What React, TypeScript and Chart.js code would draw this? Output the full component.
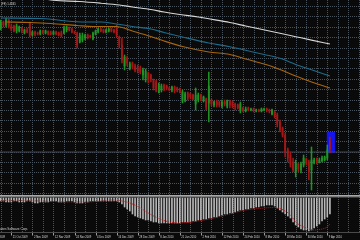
import React, { useEffect, useRef } from "react";
import { Chart, registerables } from "chart.js";

Chart.register(...registerables);

const BG = "#0a0a0b";
const GRID = "#4a525c";
const BULL = "#1f9424";
const BEAR = "#a51717";

// ---- price candles (daily) ----
const opens = [
  1.472, 1.478, 1.475, 1.480, 1.474, 1.474, 1.469, 1.469, 1.472, 1.467,
  1.470, 1.477, 1.465, 1.468, 1.467, 1.466, 1.469, 1.467, 1.469, 1.467,
  1.466, 1.468, 1.467, 1.467, 1.467, 1.470, 1.472, 1.471, 1.468, 1.467,
  1.458, 1.460, 1.462, 1.465, 1.464, 1.461, 1.466, 1.468, 1.471, 1.470,
  1.468, 1.469, 1.471, 1.470, 1.473, 1.463, 1.455, 1.434, 1.442, 1.432,
  1.437, 1.434, 1.433, 1.432, 1.425, 1.422, 1.427, 1.425, 1.420, 1.418,
  1.408, 1.410, 1.415, 1.414, 1.412, 1.410, 1.413, 1.412, 1.411, 1.399,
  1.400, 1.407, 1.406, 1.405, 1.396, 1.400, 1.405, 1.400, 1.401, 1.397,
  1.400, 1.395, 1.399, 1.398, 1.394, 1.398, 1.394, 1.399, 1.398, 1.396,
  1.395, 1.389, 1.392, 1.389, 1.392, 1.390, 1.391, 1.389, 1.390, 1.389,
  1.390, 1.391, 1.390, 1.386, 1.388, 1.385, 1.378, 1.372, 1.365, 1.350,
  1.345, 1.338, 1.328, 1.336, 1.330, 1.335, 1.341, 1.338, 1.330, 1.337,
  1.341, 1.338, 1.339, 1.340, 1.342, 1.359,
];
const highs = [
  1.480, 1.479, 1.482, 1.481, 1.476, 1.475, 1.476, 1.474, 1.473, 1.471,
  1.472, 1.478, 1.469, 1.469, 1.468, 1.470, 1.470, 1.470, 1.469, 1.469,
  1.469, 1.469, 1.468, 1.469, 1.474, 1.474, 1.473, 1.472, 1.469, 1.468,
  1.467, 1.467, 1.466, 1.466, 1.465, 1.468, 1.470, 1.472, 1.472, 1.471,
  1.471, 1.472, 1.472, 1.471, 1.475, 1.464, 1.462, 1.445, 1.444, 1.438,
  1.438, 1.436, 1.435, 1.434, 1.432, 1.431, 1.428, 1.426, 1.421, 1.420,
  1.417, 1.416, 1.416, 1.415, 1.413, 1.414, 1.414, 1.413, 1.412, 1.410,
  1.408, 1.408, 1.407, 1.406, 1.412, 1.407, 1.406, 1.404, 1.402, 1.428,
  1.401, 1.399, 1.400, 1.399, 1.400, 1.400, 1.400, 1.400, 1.399, 1.397,
  1.396, 1.398, 1.393, 1.393, 1.393, 1.392, 1.392, 1.391, 1.391, 1.392,
  1.392, 1.392, 1.391, 1.391, 1.389, 1.387, 1.380, 1.373, 1.367, 1.352,
  1.348, 1.342, 1.340, 1.337, 1.338, 1.345, 1.342, 1.340, 1.353, 1.342,
  1.342, 1.342, 1.344, 1.344, 1.355, 1.363,
];
const lows = [
  1.470, 1.473, 1.473, 1.472, 1.469, 1.468, 1.467, 1.468, 1.467, 1.466,
  1.467, 1.463, 1.464, 1.464, 1.465, 1.465, 1.466, 1.466, 1.465, 1.465,
  1.465, 1.465, 1.464, 1.463, 1.466, 1.468, 1.469, 1.467, 1.466, 1.452,
  1.457, 1.458, 1.460, 1.461, 1.462, 1.460, 1.465, 1.467, 1.468, 1.467,
  1.467, 1.468, 1.468, 1.467, 1.463, 1.452, 1.437, 1.430, 1.434, 1.430,
  1.431, 1.428, 1.427, 1.426, 1.420, 1.418, 1.417, 1.418, 1.410, 1.408,
  1.407, 1.408, 1.409, 1.410, 1.409, 1.408, 1.407, 1.408, 1.407, 1.397,
  1.398, 1.400, 1.401, 1.400, 1.390, 1.398, 1.399, 1.398, 1.390, 1.378,
  1.394, 1.393, 1.393, 1.393, 1.392, 1.394, 1.392, 1.392, 1.392, 1.390,
  1.391, 1.387, 1.388, 1.388, 1.389, 1.389, 1.388, 1.388, 1.388, 1.388,
  1.389, 1.388, 1.387, 1.385, 1.382, 1.373, 1.368, 1.363, 1.343, 1.338,
  1.333, 1.328, 1.323, 1.328, 1.327, 1.333, 1.335, 1.320, 1.310, 1.336,
  1.336, 1.337, 1.338, 1.339, 1.340, 1.347,
];
const closes = [
  1.478, 1.475, 1.480, 1.474, 1.471, 1.469, 1.474, 1.473, 1.469, 1.470,
  1.468, 1.465, 1.468, 1.466, 1.466, 1.469, 1.467, 1.469, 1.466, 1.466,
  1.468, 1.466, 1.465, 1.464, 1.472, 1.473, 1.470, 1.468, 1.467, 1.455,
  1.465, 1.464, 1.465, 1.463, 1.463, 1.467, 1.469, 1.471, 1.469, 1.468,
  1.470, 1.471, 1.469, 1.468, 1.465, 1.455, 1.440, 1.443, 1.437, 1.436,
  1.433, 1.430, 1.429, 1.428, 1.430, 1.429, 1.420, 1.421, 1.412, 1.410,
  1.415, 1.414, 1.411, 1.412, 1.410, 1.413, 1.409, 1.410, 1.408, 1.408,
  1.406, 1.402, 1.403, 1.401, 1.405, 1.405, 1.401, 1.403, 1.393, 1.414,
  1.396, 1.398, 1.395, 1.395, 1.398, 1.396, 1.399, 1.395, 1.394, 1.393,
  1.392, 1.396, 1.390, 1.391, 1.390, 1.391, 1.390, 1.390, 1.389, 1.391,
  1.391, 1.390, 1.389, 1.390, 1.384, 1.376, 1.370, 1.365, 1.348, 1.342,
  1.336, 1.330, 1.337, 1.331, 1.336, 1.342, 1.337, 1.328, 1.340, 1.340,
  1.338, 1.340, 1.342, 1.343, 1.350, 1.351,
];

// ---- moving averages (bar index, price) ----
const maWhiteIdx = [14, 20, 30, 38, 45, 50, 57, 62, 68, 75, 79, 87, 93, 98, 106, 112, 118, 125];
const maWhite = [1.5025, 1.4997, 1.4985, 1.4968, 1.495, 1.493, 1.4905, 1.488, 1.4855, 1.483, 1.4812, 1.4775, 1.474, 1.4712, 1.4667, 1.4633, 1.4599, 1.456];
const maBlueIdx = [0, 15, 20, 25, 32, 38, 44, 50, 57, 62, 69, 79, 87, 93, 100, 106, 112, 118, 125];
const maBlue = [1.482, 1.4815, 1.4805, 1.479, 1.478, 1.478, 1.476, 1.4735, 1.471, 1.4675, 1.463, 1.457, 1.4533, 1.4497, 1.4455, 1.4417, 1.4355, 1.4302, 1.424];
const maOrangeIdx = [2, 11, 19, 29, 35, 44, 50, 57, 62, 69, 79, 87, 93, 100, 103, 106, 112, 118, 125];
const maOrange = [1.478, 1.4775, 1.4765, 1.4745, 1.4735, 1.4735, 1.469, 1.4635, 1.459, 1.4535, 1.448, 1.4455, 1.441, 1.436, 1.4335, 1.4305, 1.424, 1.418, 1.412];

// ---- horizontal line & rectangle objects ----
const hLinePrice = 1.348;
const rectFrom = 123.8;
const rectTo = 126.9;
const rectHigh = 1.368;
const rectLow = 1.347;

// ---- MACD (in pips) ----
const macd = [
  -9, -9, -12, -12, -12, -9, -9, -12, -12, -12, -9, -9, -12, -15, -15, -12, -12, -12, -12, -9,
  -9, -9, -12, -12, -12, -9, -9, -9, -12, -15, -15, -15, -12, -12, -9, -9, -9, -9, -9, -9,
  -9, -9, -9, -9, -9, -12,
  -18, -27, -33, -39, -48, -54, -57, -60, -63, -66, -66, -69, -72, -72, -75, -75, -75, -75, -75, -75,
  -75, -75, -75, -72, -72, -72, -72, -69, -69, -66, -66, -63, -63, -60, -60, -57, -57, -54, -51, -48,
  -48, -45, -45, -42, -39, -36, -36, -33, -33, -30, -30, -27, -27, -24, -24, -21, -21, -21, -24, -30,
  -36, -42, -48, -54, -60, -72, -81, -87, -93, -96, -96, -99, -96, -90, -84, -78, -69, -63, -57, -48,
];
const signalIdx = [0, 8, 15, 20, 26, 32, 38, 42, 45, 49, 53, 56, 60, 64, 68, 75, 81, 87, 93, 98, 104, 108, 110, 112, 116, 119, 122, 124, 125];
const signal = [-7.5, -7.5, -9, -10.5, -12, -12, -9, -6, -7.5, -15, -30, -45, -61.5, -72, -75, -69, -60, -48, -36, -31.5, -28.5, -39, -51, -72, -90, -96, -93, -87, -78];

// ---- time axis labels ----
const labelIdx = [-4, 4, 12, 20, 28, 36, 44, 52, 60, 68, 76, 84, 92, 100, 108, 116, 124];
const labelText = [
  "9 Oct 2009", "21 Oct 2009", "2 Nov 2009", "12 Nov 2009", "24 Nov 2009", "4 Dec 2009",
  "16 Dec 2009", "28 Dec 2009", "8 Jan 2010", "21 Jan 2010", "2 Feb 2010", "12 Feb 2010",
  "24 Feb 2010", "8 Mar 2010", "18 Mar 2010", "30 Mar 2010", "9 Apr 2010",
];
const titleText = "(FE) 1.4845";
const copyrightText = "© 2001-2010 MetaQuotes Software Corp.";

// ---- scale settings ----
const X_MIN = -0.3;
const X_MAX = 136.42;
const GRID_EVERY = 4;
const Y_MAX = 1.5;
const Y_MIN = 1.305;
const GRID_TOP = 1.494;
const GRID_STEP = 0.0104;
const IND_MAX = 9;
const IND_MIN = -102;

const MAIN_H = 195;
const IND_H = 45;

function xGridValues() {
  const t: number[] = [];
  for (let v = 0; v <= X_MAX; v += GRID_EVERY) t.push(v);
  return t;
}
function yGridValues() {
  const t: number[] = [];
  for (let v = GRID_TOP; v > Y_MIN; v -= GRID_STEP) t.push(v);
  return t;
}

// dotted grid drawn from the scales' own pixel mapping
function drawDottedGrid(chart: any, withY: boolean) {
  const { ctx, chartArea, scales } = chart;
  ctx.save();
  ctx.strokeStyle = GRID;
  ctx.lineWidth = 1;
  ctx.setLineDash([1, 1]);
  xGridValues().forEach((v) => {
    const px = Math.round(scales.x.getPixelForValue(v)) + 0.5;
    ctx.beginPath();
    ctx.moveTo(px, chartArea.top);
    ctx.lineTo(px, chartArea.bottom);
    ctx.stroke();
  });
  if (withY) {
    yGridValues().forEach((v) => {
      const py = Math.round(scales.y.getPixelForValue(v)) + 0.5;
      ctx.beginPath();
      ctx.moveTo(chartArea.left, py);
      ctx.lineTo(chartArea.right, py);
      ctx.stroke();
    });
  }
  ctx.restore();
}

export default function App() {
  const mainRef = useRef<HTMLCanvasElement>(null);
  const indRef = useRef<HTMLCanvasElement>(null);

  useEffect(() => {
    document.body.style.margin = "0";
    document.body.style.background = BG;
    const idx = opens.map((_, i) => i);
    const isBull = (i: number) => closes[i] >= opens[i];
    const candleColor = (c: any) => (isBull(c.dataIndex) ? BULL : BEAR);

    const xScale = () => ({
      type: "linear" as const,
      min: X_MIN,
      max: X_MAX,
      offset: false,
      display: false,
    });

    const mainDecor = {
      id: "mainDecor",
      beforeDraw(chart: any) {
        const { ctx, width, height } = chart;
        ctx.save();
        ctx.fillStyle = BG;
        ctx.fillRect(0, 0, width, height);
        ctx.restore();
        drawDottedGrid(chart, true);
      },
      beforeDatasetsDraw(chart: any) {
        const { ctx, scales } = chart;
        const x0 = scales.x.getPixelForValue(rectFrom);
        const x1 = scales.x.getPixelForValue(rectTo);
        const y0 = scales.y.getPixelForValue(rectHigh);
        const y1 = scales.y.getPixelForValue(rectLow);
        ctx.save();
        ctx.fillStyle = "#1414f2";
        ctx.fillRect(x0, y0, x1 - x0, y1 - y0);
        ctx.restore();
      },
      afterDraw(chart: any) {
        const { ctx } = chart;
        ctx.save();
        ctx.font = '2.8px "Liberation Sans"';
        ctx.fillStyle = "#d0d0d0";
        ctx.textBaseline = "alphabetic";
        ctx.fillText(titleText, 1, 5);
        ctx.restore();
      },
    };

    const main = new Chart(mainRef.current!, {
      type: "bar",
      data: {
        datasets: [
          {
            type: "line",
            data: [{ x: X_MIN - 1, y: hLinePrice }, { x: X_MAX + 1, y: hLinePrice }],
            borderColor: "#3f454c",
            borderWidth: 1,
            pointRadius: 0,
            order: 10,
          },
          {
            type: "bar",
            data: idx.map((i) => ({ x: i, y: [lows[i], highs[i]] })),
            backgroundColor: candleColor,
            barThickness: 0.9,
            grouped: false,
            order: 3,
          },
          {
            type: "bar",
            data: idx.map((i) => ({ x: i, y: [Math.min(opens[i], closes[i]), Math.max(opens[i], closes[i])] })),
            backgroundColor: candleColor,
            barThickness: 1.2,
            grouped: false,
            order: 2,
          },
          {
            type: "line",
            data: maWhiteIdx.map((x, k) => ({ x, y: maWhite[k] })),
            borderColor: "#d6d6d6",
            borderWidth: 1.1,
            pointRadius: 0,
            cubicInterpolationMode: "monotone",
            order: 1,
          },
          {
            type: "line",
            data: maBlueIdx.map((x, k) => ({ x, y: maBlue[k] })),
            borderColor: "#1d6c8c",
            borderWidth: 1.1,
            pointRadius: 0,
            cubicInterpolationMode: "monotone",
            order: 1,
          },
          {
            type: "line",
            data: maOrangeIdx.map((x, k) => ({ x, y: maOrange[k] })),
            borderColor: "#a8660f",
            borderWidth: 1.1,
            pointRadius: 0,
            cubicInterpolationMode: "monotone",
            order: 1,
          },
        ],
      } as any,
      options: {
        animation: false,
        responsive: false,
        maintainAspectRatio: false,
        events: [],
        layout: { padding: 0 },
        plugins: { legend: { display: false }, tooltip: { enabled: false } },
        scales: {
          x: xScale(),
          y: { type: "linear", min: Y_MIN, max: Y_MAX, display: false },
        },
      } as any,
      plugins: [mainDecor],
    });

    const indDecor = {
      id: "indDecor",
      beforeDraw(chart: any) {
        const { ctx, width, height } = chart;
        ctx.save();
        ctx.fillStyle = BG;
        ctx.fillRect(0, 0, width, height);
        ctx.restore();
        drawDottedGrid(chart, false);
      },
      afterDraw(chart: any) {
        const { ctx, scales, chartArea, width } = chart;
        ctx.save();
        // window separator
        ctx.fillStyle = "#a9a9a9";
        ctx.fillRect(0, 0, width, 1);
        ctx.fillStyle = "#7c7c7c";
        ctx.fillRect(0, 1, width, 1.4);
        // bottom border of sub-window
        ctx.fillStyle = "#4a4a4a";
        ctx.fillRect(0, chartArea.bottom, width, 1);
        // copyright
        ctx.font = '3.1px "Liberation Sans"';
        ctx.fillStyle = "#cfcfcf";
        ctx.textAlign = "right";
        ctx.fillText(copyrightText, 28, 34.6);
        // time labels
        ctx.textAlign = "left";
        ctx.font = '2.7px "Liberation Sans"';
        labelIdx.forEach((li, k) => {
          const px = scales.x.getPixelForValue(li);
          ctx.fillStyle = "#9a9a9a";
          ctx.fillRect(Math.round(px), chartArea.bottom + 1, 1, 2.5);
          ctx.fillStyle = "#dcdcdc";
          ctx.fillText(labelText[k], px + 1.5, 42.5);
        });
        ctx.restore();
      },
    };

    const ind = new Chart(indRef.current!, {
      type: "bar",
      data: {
        datasets: [
          {
            type: "bar",
            data: idx.map((i) => ({ x: i, y: macd[i] })),
            backgroundColor: "#b8b8b8",
            barThickness: 1,
            grouped: false,
            order: 2,
          },
          {
            type: "line",
            data: signalIdx.map((x, k) => ({ x, y: signal[k] })),
            borderColor: "#b41c1c",
            borderWidth: 1,
            borderDash: [1, 1],
            pointRadius: 0,
            cubicInterpolationMode: "monotone",
            order: 1,
          },
        ],
      } as any,
      options: {
        animation: false,
        responsive: false,
        maintainAspectRatio: false,
        events: [],
        layout: { padding: { left: 0, right: 0, top: 0, bottom: 8 } },
        plugins: { legend: { display: false }, tooltip: { enabled: false } },
        scales: {
          x: xScale(),
          y: { type: "linear", min: IND_MIN, max: IND_MAX, display: false },
        },
      } as any,
      plugins: [indDecor],
    });

    return () => {
      main.destroy();
      ind.destroy();
    };
  }, []);

  return (
    <div style={{ width: 360, height: 240, background: BG, overflow: "hidden" }}>
      <canvas ref={mainRef} width={360} height={MAIN_H} style={{ display: "block", width: 360, height: MAIN_H }} />
      <canvas ref={indRef} width={360} height={IND_H} style={{ display: "block", width: 360, height: IND_H }} />
    </div>
  );
}
